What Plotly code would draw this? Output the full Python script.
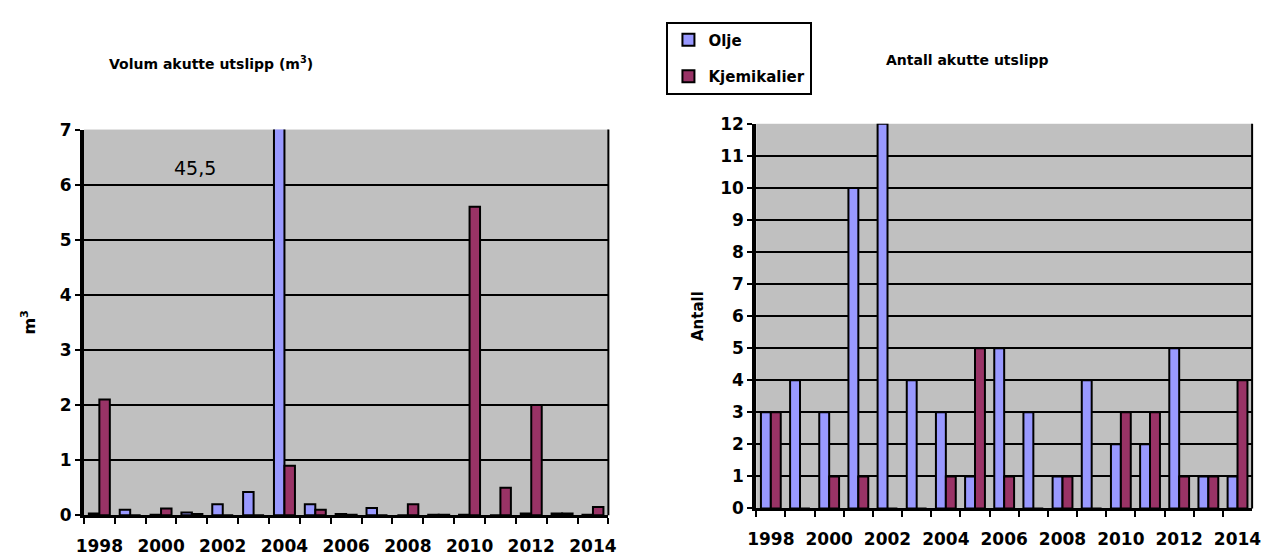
import plotly.graph_objects as go

# Years shown on both charts
years = [str(y) for y in range(1998, 2015)]
tick_text = [y if int(y) % 2 == 0 else " " for y in years]

# Volume of acute discharges (m3)
olje_volum = [0.03, 0.1, 0.01, 0.05, 0.2, 0.42, 45.5, 0.2, 0.02, 0.13,
              0.0, 0.01, 0.01, 0.0, 0.03, 0.03, 0.01]
kjemikalier_volum = [2.1, 0.0, 0.12, 0.02, 0.0, 0.0, 0.9, 0.1, 0.01, 0.0,
                     0.2, 0.01, 5.6, 0.5, 2.0, 0.03, 0.15]

# Number of acute discharges
olje_antall = [3, 4, 3, 10, 12, 4, 3, 1, 5, 3, 1, 4, 2, 2, 5, 1, 1]
kjemikalier_antall = [3, 0, 1, 1, 0, 0, 1, 5, 1, 0, 1, 0, 3, 3, 1, 1, 4]

OLJE_COLOR = "#9999FF"
KJEM_COLOR = "#993366"
FONT = "'DejaVu Sans', Arial, sans-serif"
W, H = 1269, 558

fig = go.Figure()

bar_line = dict(color="black", width=2)

fig.add_bar(x=years, y=olje_volum, name="Olje", marker_color=OLJE_COLOR,
            marker_line=bar_line, xaxis="x", yaxis="y", showlegend=False)
fig.add_bar(x=years, y=kjemikalier_volum, name="Kjemikalier", marker_color=KJEM_COLOR,
            marker_line=bar_line, xaxis="x", yaxis="y", showlegend=False)
fig.add_bar(x=years, y=olje_antall, name="Olje", marker_color=OLJE_COLOR,
            marker_line=bar_line, xaxis="x2", yaxis="y2", legendgroup="a")
fig.add_bar(x=years, y=kjemikalier_antall, name="Kjemikalier", marker_color=KJEM_COLOR,
            marker_line=bar_line, xaxis="x2", yaxis="y2", legendgroup="b")


def px_x(v):
    """Pixel x position to paper fraction."""
    return v / W


def px_y(v):
    """Pixel y position (from top) to paper fraction."""
    return 1 - v / H


tick_font = dict(family=FONT, size=17, color="black", weight="bold")

xcommon = dict(
    type="category", tickmode="array", tickvals=years, ticktext=tick_text,
    tickson="boundaries", ticks="outside", ticklen=6, tickwidth=2, tickcolor="black",
    tickangle=0, ticklabelstandoff=13,
    showline=True, linecolor="black", linewidth=3, showgrid=False,
    tickfont=tick_font, fixedrange=True,
)
ycommon = dict(
    ticks="outside", ticklen=5, tickwidth=2, tickcolor="black",
    showline=True, linecolor="black", linewidth=4,
    showgrid=True, gridcolor="black", gridwidth=2, zeroline=False,
    tickfont=tick_font, dtick=1,
)

fig.update_layout(
    width=W, height=H,
    margin=dict(l=0, r=0, t=0, b=0),
    paper_bgcolor="white",
    plot_bgcolor="#C0C0C0",
    barmode="group",
    bargap=0.32,
    bargroupgap=0.0,
    font=dict(family=FONT, color="black"),
    xaxis=dict(xcommon, domain=[px_x(76), px_x(608)], anchor="y"),
    yaxis=dict(ycommon, domain=[px_y(524), px_y(124)], range=[0, 7], anchor="x",
               title=dict(text="<b>m<sup>3</sup></b>", font=dict(size=16), standoff=21)),
    xaxis2=dict(xcommon, domain=[px_x(758), px_x(1261)], anchor="y2"),
    yaxis2=dict(ycommon, domain=[px_y(517), px_y(118)], range=[0, 12], anchor="x2",
                title=dict(text="<b>Antall</b>", font=dict(size=15), standoff=14)),
    legend=dict(
        x=px_x(815), y=px_y(12), xanchor="right", yanchor="top",
        bgcolor="white", bordercolor="black", borderwidth=2,
        font=dict(family=FONT, size=15, color="black", weight="bold"),
        traceorder="grouped", tracegroupgap=14,
        itemwidth=30,
    ),
    showlegend=True,
)

# Right border of each plot area
for x0, y0, y1 in [(608, 124, 524), (1261, 118, 517)]:
    fig.add_shape(type="line", xref="paper", yref="paper",
                  x0=px_x(x0), x1=px_x(x0), y0=px_y(y0), y1=px_y(y1),
                  line=dict(color="black", width=2))

# Chart titles
fig.add_annotation(text="<b>Volum akutte utslipp (m<sup>3</sup>)</b>", xref="paper", yref="paper",
                   x=px_x(205), y=px_y(55), xanchor="center", yanchor="middle", showarrow=False,
                   font=dict(family=FONT, size=14, color="black"))
fig.add_annotation(text="<b>Antall akutte utslipp</b>", xref="paper", yref="paper",
                   x=px_x(972), y=px_y(52), xanchor="center", yanchor="middle", showarrow=False,
                   font=dict(family=FONT, size=14, color="black"))

# Value of the 2004 oil bar, which runs off the top of the scale
fig.add_annotation(text=f"{olje_volum[6]}".replace(".", ","), xref="paper", yref="paper",
                   x=px_x(189), y=px_y(164), xanchor="center", yanchor="middle", showarrow=False,
                   font=dict(family=FONT, size=19, color="black"))

fig.write_html("out.html")
